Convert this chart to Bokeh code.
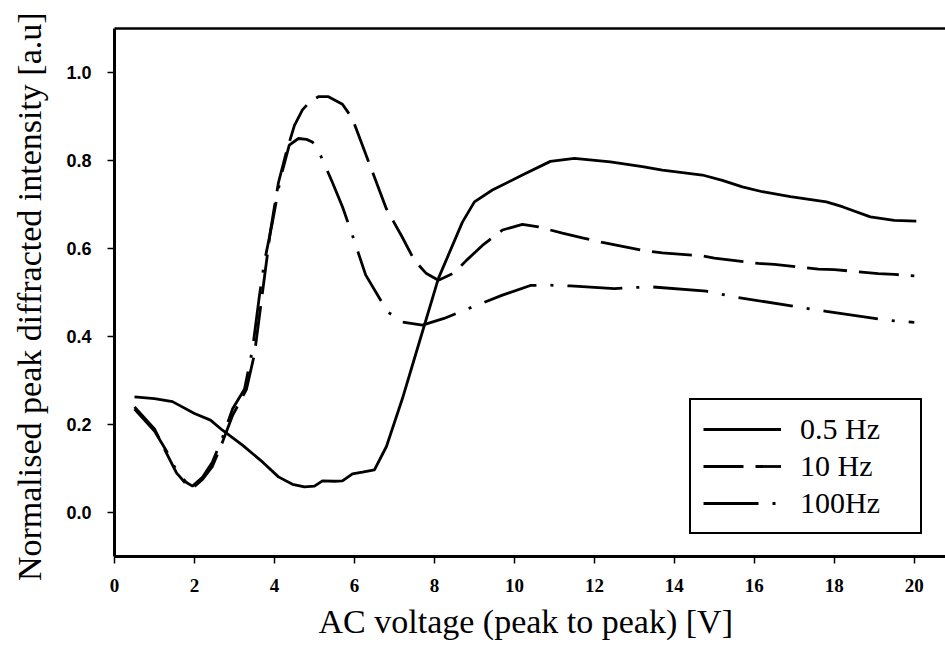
from bokeh.plotting import figure
from bokeh.models import LinearAxis, FixedTicker, Legend, LegendItem, Range1d
from bokeh.embed import file_html
from bokeh.resources import INLINE

# ---- data ----
x_05 = [0.5, 1.0, 1.45, 2.0, 2.4, 2.7, 3.2, 3.7, 4.1, 4.45, 4.75, 5.0, 5.2, 5.5, 5.7,
        5.95, 6.2, 6.5, 6.8, 7.2, 7.5, 8.1, 8.7, 9.0, 9.45, 10.2, 10.9, 11.5, 12.4,
        13.2, 13.7, 14.7, 15.2, 15.7, 16.2, 16.9, 17.8, 18.2, 18.9, 19.5, 20.05]
y_05 = [0.263, 0.259, 0.252, 0.225, 0.21, 0.187, 0.153, 0.115, 0.081, 0.064, 0.058, 0.06,
        0.072, 0.071, 0.072, 0.088, 0.092, 0.097, 0.15, 0.259, 0.35, 0.532, 0.66, 0.706,
        0.733, 0.767, 0.798, 0.805, 0.797, 0.786, 0.778, 0.767, 0.755, 0.74, 0.729, 0.718,
        0.706, 0.695, 0.672, 0.664, 0.662]

x_10 = [0.5, 1.0, 1.3, 1.55, 1.8, 1.95, 2.2, 2.45, 2.7, 2.95, 3.3, 3.5, 3.7, 3.9, 4.1,
        4.3, 4.5, 4.7, 4.9, 5.1, 5.35, 5.7, 5.95, 6.3, 6.8, 7.2, 7.5, 7.8, 8.1, 8.5, 8.8,
        9.2, 9.7, 10.2, 10.6, 11.2, 11.7, 12.2, 13.2, 13.7, 14.7, 15.0, 16.1, 16.5, 17.6,
        18.0, 19.1, 19.5, 20.0]
y_10 = [0.24, 0.19, 0.135, 0.09, 0.064, 0.055, 0.075, 0.105, 0.16, 0.22, 0.28, 0.36,
        0.50, 0.64, 0.75, 0.82, 0.88, 0.915, 0.935, 0.945, 0.945, 0.928, 0.895, 0.81,
        0.69, 0.625, 0.573, 0.543, 0.528, 0.545, 0.573, 0.607, 0.642, 0.655, 0.649,
        0.635, 0.624, 0.614, 0.596, 0.59, 0.583, 0.578, 0.566, 0.564, 0.553, 0.552,
        0.543, 0.541, 0.538]

x_100 = [0.5, 1.0, 1.3, 1.55, 1.8, 1.95, 2.2, 2.45, 2.7, 2.95, 3.25, 3.45, 3.62, 3.75,
         3.95, 4.15, 4.37, 4.6, 4.8, 4.95, 5.16, 5.45, 5.7, 5.95, 6.28, 6.83, 7.2, 7.7,
         8.24, 8.95, 9.7, 10.4, 10.8, 11.4, 12.5, 13.4, 14.8, 15.5, 17.1, 17.8, 19.3, 20.0]
y_100 = [0.235, 0.185, 0.14, 0.095, 0.068, 0.06, 0.08, 0.115, 0.17, 0.235, 0.28, 0.37,
         0.49, 0.57, 0.66, 0.76, 0.835, 0.85, 0.848, 0.842, 0.81, 0.75, 0.695, 0.63,
         0.54, 0.456, 0.433, 0.426, 0.441, 0.467, 0.494, 0.516, 0.517, 0.515, 0.509,
         0.513, 0.503, 0.49, 0.467, 0.457, 0.437, 0.432]

labels = ["0.5 Hz", "10 Hz", "100Hz"]
x_ticks = [0, 2, 4, 6, 8, 10, 12, 14, 16, 18, 20]
y_ticks = [0.0, 0.2, 0.4, 0.6, 0.8, 1.0]

SERIF = "Liberation Serif"

p = figure(width=945, height=648, output_backend="svg", toolbar_location=None,
           x_range=Range1d(0.0, 20.78), y_range=Range1d(-0.1, 1.1),
           x_axis_label="AC voltage (peak to peak)  [V]",
           y_axis_label="Normalised peak diffracted intensity  [a.u]",
           min_border_left=114, min_border_right=0, min_border_top=28,
           min_border_bottom=92)
p.outline_line_color = None
p.grid.visible = False
p.background_fill_color = "white"
p.border_fill_color = "white"

r1 = p.line(x_05, y_05, line_color="black", line_width=2.8)
r2 = p.line(x_10, y_10, line_color="black", line_width=2.8, line_dash="40 12")
r3 = p.line(x_100, y_100, line_color="black", line_width=2.8, line_dash="55 14 3 14")

for ax in (p.xaxis[0], p.yaxis[0]):
    ax.axis_line_width = 3
    ax.axis_line_color = "black"
    ax.major_tick_line_width = 1.5
    ax.major_tick_out = 7
    ax.major_tick_in = 0
    ax.minor_tick_line_color = None
    ax.axis_label_text_font = SERIF
    ax.axis_label_text_font_style = "normal"
    ax.axis_label_text_font_size = "34px"
    ax.axis_label_text_color = "black"
    ax.major_label_text_color = "black"
    ax.major_label_text_font_style = "bold"

p.xaxis[0].ticker = FixedTicker(ticks=x_ticks)
p.xaxis[0].major_label_text_font = SERIF
p.xaxis[0].major_label_text_font_size = "19px"
p.xaxis[0].major_label_standoff = 15
p.xaxis[0].axis_label_standoff = 8

p.yaxis[0].ticker = FixedTicker(ticks=y_ticks)
p.yaxis[0].major_label_overrides = {t: f"{t:.1f}" for t in y_ticks}
p.yaxis[0].major_label_text_font = "Liberation Sans"
p.yaxis[0].major_label_text_font_size = "18px"
p.yaxis[0].major_label_standoff = 16
p.yaxis[0].axis_label_standoff = 15

top = LinearAxis(ticker=FixedTicker(ticks=[]), axis_line_width=2.5,
                 axis_line_color="black", major_tick_line_color=None,
                 minor_tick_line_color=None, major_label_text_color=None)
p.add_layout(top, "above")

legend = Legend(items=[LegendItem(label=labels[0], renderers=[r1]),
                       LegendItem(label=labels[1], renderers=[r2]),
                       LegendItem(label=labels[2], renderers=[r3])],
                location=(575, 22))
legend.label_text_font = SERIF
legend.label_text_font_size = "30px"
legend.label_text_color = "black"
legend.glyph_width = 78
legend.glyph_height = 34
legend.label_height = 34
legend.label_width = 108
legend.label_standoff = 19
legend.padding = 12
legend.spacing = 3
legend.margin = 0
legend.border_line_color = "black"
legend.border_line_alpha = 1.0
legend.border_line_width = 2
legend.background_fill_color = "white"
legend.background_fill_alpha = 1.0
p.add_layout(legend, "center")

open("out.html", "w").write(file_html(p, INLINE))
